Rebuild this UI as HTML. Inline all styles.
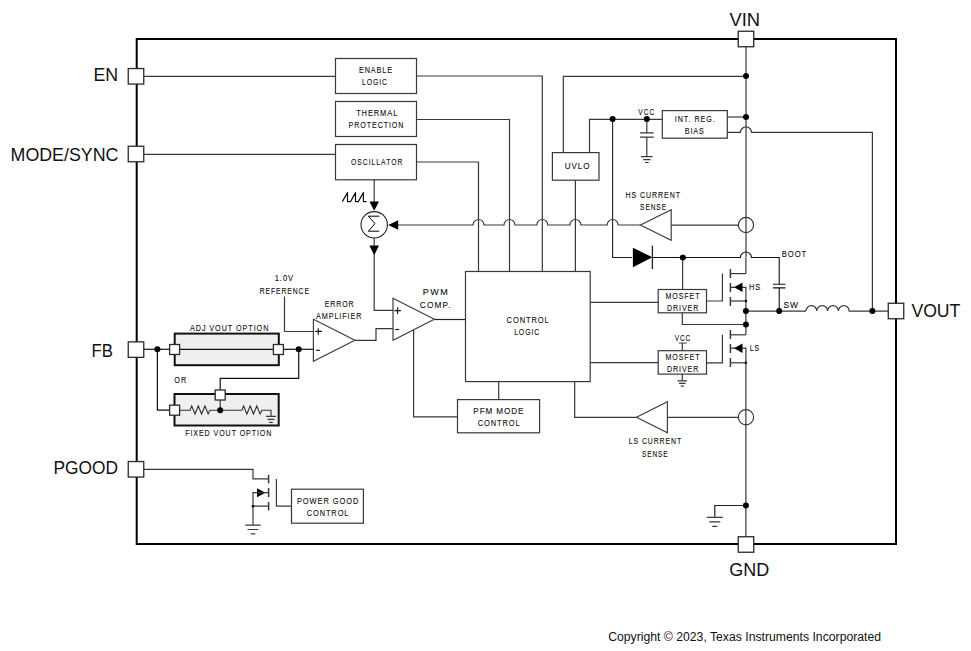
<!DOCTYPE html>
<html><head><meta charset="utf-8"><style>
html,body{margin:0;padding:0;background:#fff;}
svg{display:block;font-family:"Liberation Sans", sans-serif;}
</style></head><body>
<svg width="971" height="651" viewBox="0 0 971 651">
<rect x="136.7" y="39" width="759.3" height="505" stroke="#000" stroke-width="2" fill="none"/>
<text x="93.44" y="81" font-size="18.17" textLength="24.71" lengthAdjust="spacingAndGlyphs" fill="#111">EN</text>
<text x="10.54" y="160.6" font-size="18.17" textLength="107.94" lengthAdjust="spacingAndGlyphs" fill="#111">MODE/SYNC</text>
<text x="91.52" y="357.1" font-size="18.17" textLength="21.46" lengthAdjust="spacingAndGlyphs" fill="#111">FB</text>
<text x="53.38" y="474.1" font-size="18.17" textLength="64.55" lengthAdjust="spacingAndGlyphs" fill="#111">PGOOD</text>
<text x="729.52" y="25.6" font-size="17.88" textLength="30.58" lengthAdjust="spacingAndGlyphs" fill="#111">VIN</text>
<text x="729.30" y="576" font-size="18.31" textLength="39.97" lengthAdjust="spacingAndGlyphs" fill="#111">GND</text>
<text x="911.42" y="316.7" font-size="17.44" textLength="48.98" lengthAdjust="spacingAndGlyphs" fill="#111">VOUT</text>
<path d="M144 76.3H335.5" stroke="#383838" stroke-width="1.2" fill="none" />
<rect x="335.5" y="58.5" width="81.0" height="35.0" stroke="#383838" stroke-width="1.2" fill="#fff"/>
<text transform="translate(358.91,72.9) scale(0.8312029304029299,1)" x="0" y="0" font-size="8.72" textLength="39.83" lengthAdjust="spacing" fill="#111" stroke="#000" stroke-width="0.1">ENABLE</text>
<text transform="translate(361.94,85.2) scale(0.7895624394755447,1)" x="0" y="0" font-size="8.72" textLength="31.70" lengthAdjust="spacing" fill="#111" stroke="#000" stroke-width="0.1">LOGIC</text>
<rect x="335.5" y="101.5" width="81.0" height="35.0" stroke="#383838" stroke-width="1.2" fill="#fff"/>
<text transform="translate(356.13,115.9) scale(0.8595162944582302,1)" x="0" y="0" font-size="8.72" textLength="47.95" lengthAdjust="spacing" fill="#111" stroke="#000" stroke-width="0.1">THERMAL</text>
<text transform="translate(348.62,128.2) scale(0.8162171466401856,1)" x="0" y="0" font-size="8.72" textLength="67.10" lengthAdjust="spacing" fill="#111" stroke="#000" stroke-width="0.1">PROTECTION</text>
<path d="M144 154.3H335.5" stroke="#383838" stroke-width="1.2" fill="none" />
<rect x="335.5" y="144.5" width="81.0" height="35.3" stroke="#383838" stroke-width="1.2" fill="#fff"/>
<text transform="translate(351.08,164.8) scale(0.7808313774578838,1)" x="0" y="0" font-size="8.72" textLength="65.62" lengthAdjust="spacing" fill="#111" stroke="#000" stroke-width="0.1">OSCILLATOR</text>
<path d="M416.5 76H542.3V271.5" stroke="#383838" stroke-width="1.2" fill="none" />
<path d="M416.5 119.5H509.5V271.5" stroke="#383838" stroke-width="1.2" fill="none" />
<path d="M416.5 162H478.5V271.5" stroke="#383838" stroke-width="1.2" fill="none" />
<path d="M374.2 179.8V203" stroke="#383838" stroke-width="1.2" fill="none" />
<polygon points="369.4,201.5 379,201.5 374.2,210.8" fill="#000"/>
<circle cx="374.2" cy="224.8" r="13.2" stroke="#222" stroke-width="1.1" fill="none"/>
<path d="M368.3 216.2H379.2M368.3 216.2L375 223.6L368.3 231.2H379.2" stroke="#000" stroke-width="1" fill="none"/>
<path d="M342.3 201.6L347.5 192.6V201.6H350.5L355.5 192.6V201.6H358.3L363.4 192.6V201.6H366.6" stroke="#111" stroke-width="1.2" fill="none" stroke-linejoin="round"/>
<path d="M374.2 238V247" stroke="#383838" stroke-width="1.2" fill="none" />
<polygon points="369.4,245.5 379,245.5 374.2,255.3" fill="#000"/>
<path d="M374.2 254V310.4H393" stroke="#383838" stroke-width="1.2" fill="none" />
<polygon points="388.2,225 398.2,220.2 398.2,229.8" fill="#000"/>
<path d="M398 225H473.0A5.5 5.5 0 0 1 484.0 225H504.0A5.5 5.5 0 0 1 515.0 225H536.8A5.5 5.5 0 0 1 547.8 225H569.9A5.5 5.5 0 0 1 580.9 225H607.1A5.5 5.5 0 0 1 618.1 225H640.4" stroke="#383838" stroke-width="1.2" fill="none" />
<path d="M563.3 152.6V76.3H746" stroke="#383838" stroke-width="1.2" fill="none" />
<rect x="552.4" y="152.6" width="46.6" height="27.6" stroke="#383838" stroke-width="1.2" fill="#fff"/>
<text transform="translate(564.78,168.8) scale(0.9542088147807333,1)" x="0" y="0" font-size="8.43" textLength="25.79" lengthAdjust="spacing" fill="#111" stroke="#000" stroke-width="0.1">UVLO</text>
<path d="M575.4 180.2V271.5" stroke="#383838" stroke-width="1.2" fill="none" />
<path d="M589.5 152.6V119.3H662.3" stroke="#383838" stroke-width="1.2" fill="none" />
<text transform="translate(638.37,115) scale(0.7648702383762107,1)" x="0" y="0" font-size="8.72" textLength="20.77" lengthAdjust="spacing" fill="#111" stroke="#000" stroke-width="0.1">VCC</text>
<path d="M612.6 119V257.5H632" stroke="#222" stroke-width="1.1" fill="none" />
<path d="M646.8 119V132.8M640 132.8H653.7M640 137.1H653.7M646.8 137.1V156.6" stroke="#383838" stroke-width="1.2" fill="none" />
<path d="M641.05 156.6H652.55M643.05 159.54999999999998H650.55M645.0 162.5H648.5999999999999" stroke="#383838" stroke-width="1.2" fill="none" />
<rect x="662.3" y="110.6" width="65.0" height="27.6" stroke="#383838" stroke-width="1.2" fill="#fff"/>
<text transform="translate(674.74,122.3) scale(0.8183568298779608,1)" x="0" y="0" font-size="8.72" textLength="49.01" lengthAdjust="spacing" fill="#111" stroke="#000" stroke-width="0.1">INT. REG.</text>
<text transform="translate(684.71,133.7) scale(0.8316600227014791,1)" x="0" y="0" font-size="8.72" textLength="23.12" lengthAdjust="spacing" fill="#111" stroke="#000" stroke-width="0.1">BIAS</text>
<path d="M727.3 117H746" stroke="#383838" stroke-width="1.2" fill="none" />
<path d="M727.3 132.4H740.5A5.5 5.5 0 0 1 751.5 132.4H872.4V311" stroke="#383838" stroke-width="1.2" fill="none" />
<path d="M746 47V257.2" stroke="#383838" stroke-width="1.2" fill="none" />
<circle cx="746" cy="225" r="7.6" stroke="#383838" stroke-width="1.2" fill="none"/>
<polygon points="640.4,225 671.2,209.6 671.2,240.4" stroke="#404040" stroke-width="1.2" fill="#fff"/>
<text transform="translate(625.62,198.2) scale(0.808803169076273,1)" x="0" y="0" font-size="8.72" textLength="67.19" lengthAdjust="spacing" fill="#111" stroke="#000" stroke-width="0.1">HS CURRENT</text>
<text transform="translate(640.10,210.2) scale(0.7570916691314198,1)" x="0" y="0" font-size="8.72" textLength="34.32" lengthAdjust="spacing" fill="#111" stroke="#000" stroke-width="0.1">SENSE</text>
<path d="M671.2 225.2H738.4" stroke="#383838" stroke-width="1.2" fill="none" />
<polygon points="632.9,247.7 632.9,267.3 652.4,257.3" fill="#000"/>
<path d="M652.4 245.6V269.1" stroke="#222" stroke-width="1.3" fill="none" />
<path d="M652.4 257.5H682.8H740.4A5.5 5.5 0 0 1 751.4 257.5H779.2V284.3M772.9 284.3H785.4M772.9 287.9H785.4M779.2 287.9V311" stroke="#111" stroke-width="1.1" fill="none" />
<text transform="translate(781.77,257) scale(0.8783286089238853,1)" x="0" y="0" font-size="8.72" textLength="27.78" lengthAdjust="spacing" fill="#111" stroke="#000" stroke-width="0.1">BOOT</text>
<path d="M682.6 257.5V289.5" stroke="#383838" stroke-width="1.2" fill="none" />
<path d="M730.4 269V278" stroke="#383838" stroke-width="1.5" fill="none" />
<path d="M730.4 283V292.2" stroke="#383838" stroke-width="1.5" fill="none" />
<path d="M730.4 297V306" stroke="#383838" stroke-width="1.5" fill="none" />
<path d="M745.9 273.6H730.4" stroke="#383838" stroke-width="1.2" fill="none" />
<path d="M730.4 301H745.9" stroke="#383838" stroke-width="1.2" fill="none" />
<path d="M730.4 287.3H745.9V301" stroke="#383838" stroke-width="1.2" fill="none" />
<polygon points="734,287.3 742.5,282.6 742.5,292.0" fill="#000"/>
<path d="M722.4 273.6V301H706.4" stroke="#383838" stroke-width="1.2" fill="none" />
<path d="M745.9 257.5V273.6" stroke="#383838" stroke-width="1.2" fill="none" />
<text transform="translate(748.88,290) scale(0.8934897940112384,1)" x="0" y="0" font-size="8.43" textLength="12.72" lengthAdjust="spacing" fill="#111" stroke="#000" stroke-width="0.1">HS</text>
<rect x="658.2" y="289.5" width="48.3" height="23.3" stroke="#383838" stroke-width="1.2" fill="#fff"/>
<text transform="translate(665.42,298.9) scale(0.8159171595736148,1)" x="0" y="0" font-size="8.72" textLength="41.85" lengthAdjust="spacing" fill="#111" stroke="#000" stroke-width="0.1">MOSFET</text>
<text transform="translate(667.02,311) scale(0.8136838706800437,1)" x="0" y="0" font-size="8.72" textLength="38.48" lengthAdjust="spacing" fill="#111" stroke="#000" stroke-width="0.1">DRIVER</text>
<path d="M590.2 302.3H658.2" stroke="#383838" stroke-width="1.2" fill="none" />
<path d="M745.9 301V334.8" stroke="#383838" stroke-width="1.2" fill="none" />
<path d="M682.3 312.8V324.5H745.9" stroke="#383838" stroke-width="1.2" fill="none" />
<path d="M745.9 311.1H806" stroke="#383838" stroke-width="1.2" fill="none" />
<text transform="translate(783.42,307.9) scale(0.9948267454269115,1)" x="0" y="0" font-size="8.43" textLength="14.48" lengthAdjust="spacing" fill="#111" stroke="#000" stroke-width="0.1">SW</text>
<path d="M806 311.1A5.4 5.4 0 0 1 816.8 311.1A5.4 5.4 0 0 1 827.6 311.1A5.4 5.4 0 0 1 838.4 311.1A5.4 5.4 0 0 1 849.2 311.1H888.2" stroke="#383838" stroke-width="1.2" fill="none" />
<path d="M730.4 330V339" stroke="#383838" stroke-width="1.5" fill="none" />
<path d="M730.4 344V353" stroke="#383838" stroke-width="1.5" fill="none" />
<path d="M730.4 358V367" stroke="#383838" stroke-width="1.5" fill="none" />
<path d="M745.9 334.8H730.4" stroke="#383838" stroke-width="1.2" fill="none" />
<path d="M730.4 362.8H745.9" stroke="#383838" stroke-width="1.2" fill="none" />
<path d="M730.4 348.2H745.9V362.8" stroke="#383838" stroke-width="1.2" fill="none" />
<polygon points="734,348.2 742.5,343.5 742.5,352.9" fill="#000"/>
<path d="M722.4 334.8V362.8H706.4" stroke="#383838" stroke-width="1.2" fill="none" />
<text transform="translate(749.72,350.8) scale(0.8339727274124887,1)" x="0" y="0" font-size="8.43" textLength="11.39" lengthAdjust="spacing" fill="#111" stroke="#000" stroke-width="0.1">LS</text>
<rect x="658.2" y="350.7" width="48.3" height="23.4" stroke="#383838" stroke-width="1.2" fill="#fff"/>
<text transform="translate(665.42,359.7) scale(0.8159171595736148,1)" x="0" y="0" font-size="8.72" textLength="41.85" lengthAdjust="spacing" fill="#111" stroke="#000" stroke-width="0.1">MOSFET</text>
<text transform="translate(667.02,372) scale(0.8136838706800437,1)" x="0" y="0" font-size="8.72" textLength="38.48" lengthAdjust="spacing" fill="#111" stroke="#000" stroke-width="0.1">DRIVER</text>
<path d="M590.2 362.6H658.2" stroke="#383838" stroke-width="1.2" fill="none" />
<text transform="translate(674.77,341.2) scale(0.75,1)" x="0" y="0" font-size="8.72" textLength="20.64" lengthAdjust="spacing" fill="#111" stroke="#000" stroke-width="0.1">VCC</text>
<path d="M678.8 343H686.9M682.3 343V350.6" stroke="#383838" stroke-width="1.2" fill="none" />
<path d="M682.3 373.9V380.8" stroke="#383838" stroke-width="1.2" fill="none" />
<path d="M677.55 380.8H687.05M679.05 383.45H685.55M680.8 386.1H683.8" stroke="#383838" stroke-width="1.2" fill="none" />
<path d="M745.9 362.8V536.5" stroke="#383838" stroke-width="1.2" fill="none" />
<circle cx="746" cy="417.3" r="7.6" stroke="#383838" stroke-width="1.2" fill="none"/>
<polygon points="636.5,417.3 667.4,401.8 667.4,432.8" stroke="#404040" stroke-width="1.2" fill="#fff"/>
<path d="M667.4 417.3H738.4" stroke="#383838" stroke-width="1.2" fill="none" />
<path d="M636.5 417.3H574.7V381.6" stroke="#383838" stroke-width="1.2" fill="none" />
<text transform="translate(628.83,443.9) scale(0.7936775697304019,1)" x="0" y="0" font-size="8.72" textLength="65.93" lengthAdjust="spacing" fill="#111" stroke="#000" stroke-width="0.1">LS CURRENT</text>
<text transform="translate(642.00,456.8) scale(0.75,1)" x="0" y="0" font-size="8.72" textLength="34.24" lengthAdjust="spacing" fill="#111" stroke="#000" stroke-width="0.1">SENSE</text>
<path d="M745.9 505.5H714.8V517.4" stroke="#222" stroke-width="1.2" fill="none" />
<path d="M706.8 517.4H722.8M709.3 521.85H720.3M712.3 526.3H717.3" stroke="#383838" stroke-width="1.2" fill="none" />
<rect x="465.5" y="271.5" width="124.7" height="110.1" stroke="#383838" stroke-width="1.2" fill="#fff"/>
<text transform="translate(506.62,323) scale(0.8336709552858186,1)" x="0" y="0" font-size="9.01" textLength="50.54" lengthAdjust="spacing" fill="#111" stroke="#000" stroke-width="0.1">CONTROL</text>
<text transform="translate(514.13,335.2) scale(0.7678018711467468,1)" x="0" y="0" font-size="9.01" textLength="32.73" lengthAdjust="spacing" fill="#111" stroke="#000" stroke-width="0.1">LOGIC</text>
<path d="M434 319.5H465.5" stroke="#222" stroke-width="1.2" fill="none" />
<path d="M498.7 381.6V399.6" stroke="#383838" stroke-width="1.2" fill="none" />
<rect x="457.5" y="399.6" width="82.1" height="33.2" stroke="#383838" stroke-width="1.2" fill="#fff"/>
<text transform="translate(473.33,414.3) scale(0.9001933808127356,1)" x="0" y="0" font-size="9.01" textLength="55.56" lengthAdjust="spacing" fill="#111" stroke="#000" stroke-width="0.1">PFM MODE</text>
<text transform="translate(477.82,425.9) scale(0.8267429418069888,1)" x="0" y="0" font-size="9.01" textLength="50.59" lengthAdjust="spacing" fill="#111" stroke="#000" stroke-width="0.1">CONTROL</text>
<path d="M413.6 308V416.8H457.5" stroke="#383838" stroke-width="1.2" fill="none" />
<polygon points="393,298.3 434.3,319.3 393,340.3" stroke="#404040" stroke-width="1.2" fill="#fff"/>
<text transform="translate(422.76,295.4) scale(1.0,1)" x="0" y="0" font-size="9.01" textLength="24.98" lengthAdjust="spacing" fill="#111" stroke="#000" stroke-width="0.1">PWM</text>
<text transform="translate(419.78,307.8) scale(0.9200888076270086,1)" x="0" y="0" font-size="9.01" textLength="33.45" lengthAdjust="spacing" fill="#111" stroke="#000" stroke-width="0.1">COMP.</text>
<path d="M394.4 310.6H400.9M397.6 307.2V314" stroke="#111" stroke-width="1.1" fill="none" />
<path d="M395.2 329.5H399.2" stroke="#111" stroke-width="1.1" fill="none" />
<polygon points="313.4,319.3 354.9,340.3 313.4,361.3" stroke="#404040" stroke-width="1.2" fill="#fff"/>
<path d="M315.2 331.4H321.9M318.3 328.2V334.8" stroke="#111" stroke-width="1.1" fill="none" />
<path d="M316 350.3H320" stroke="#111" stroke-width="1.1" fill="none" />
<text transform="translate(324.73,306.9) scale(0.8571649676553635,1)" x="0" y="0" font-size="8.14" textLength="33.59" lengthAdjust="spacing" fill="#111" stroke="#000" stroke-width="0.1">ERROR</text>
<text transform="translate(316.09,318.8) scale(0.8878745332337564,1)" x="0" y="0" font-size="8.14" textLength="51.08" lengthAdjust="spacing" fill="#111" stroke="#000" stroke-width="0.1">AMPLIFIER</text>
<text transform="translate(274.72,281) scale(0.9062058061878159,1)" x="0" y="0" font-size="8.43" textLength="20.32" lengthAdjust="spacing" fill="#111" stroke="#000" stroke-width="0.1">1.0V</text>
<text transform="translate(259.74,293.9) scale(0.8088023517937996,1)" x="0" y="0" font-size="8.43" textLength="60.90" lengthAdjust="spacing" fill="#111" stroke="#000" stroke-width="0.1">REFERENCE</text>
<path d="M284.5 296.6V331.5H313.4" stroke="#383838" stroke-width="1.2" fill="none" />
<path d="M354.9 340.4H376V328.6H393" stroke="#383838" stroke-width="1.2" fill="none" />
<path d="M144 349.3H169.5" stroke="#111" stroke-width="1.2" fill="none" />
<rect x="174.7" y="333.6" width="104.1" height="31.6" stroke="#111" stroke-width="2" fill="#efefef"/>
<text transform="translate(189.99,331.1) scale(0.8063494881121239,1)" x="0" y="0" font-size="9.01" textLength="97.24" lengthAdjust="spacing" fill="#111" stroke="#000" stroke-width="0.1">ADJ VOUT OPTION</text>
<path d="M179.6 349.3H273.5" stroke="#111" stroke-width="1.2" fill="none" />
<rect x="169.6" y="344.5" width="10.0" height="10.0" stroke="#2a2a2a" stroke-width="1.3" fill="#fff"/>
<rect x="273.4" y="344.5" width="10.0" height="10.0" stroke="#2a2a2a" stroke-width="1.3" fill="#fff"/>
<path d="M283.4 349.3H313.4" stroke="#111" stroke-width="1.2" fill="none" />
<path d="M298.7 349.3V378.3H220.2V390" stroke="#111" stroke-width="1.2" fill="none" />
<text transform="translate(174.36,383) scale(0.8603954022988525,1)" x="0" y="0" font-size="8.43" textLength="13.69" lengthAdjust="spacing" fill="#111" stroke="#000" stroke-width="0.1">OR</text>
<path d="M157.4 349.3V410.2H169.5" stroke="#111" stroke-width="1.2" fill="none" />
<rect x="174.5" y="394" width="104.2" height="31.5" stroke="#111" stroke-width="2" fill="#efefef"/>
<rect x="215.2" y="390.0" width="10.0" height="10.0" stroke="#2a2a2a" stroke-width="1.3" fill="#fff"/>
<rect x="169.6" y="405.2" width="10.0" height="10.0" stroke="#2a2a2a" stroke-width="1.3" fill="#fff"/>
<path d="M179.6 410.2H190L191.7 406L195 414L198.3 406L201.6 414L204.9 406L208.2 414L210 410.2H241.9L243.6 406L246.9 414L250.2 406L253.5 414L256.8 406L260.1 414L261.9 410.2H271V416.4" stroke="#333" stroke-width="1.1" fill="none" />
<path d="M220.2 400V410.2" stroke="#383838" stroke-width="1.2" fill="none" />
<path d="M266.0 416.4H276.0M267.5 419.4H274.5M269.25 422.4H272.75" stroke="#383838" stroke-width="1.2" fill="none" />
<text transform="translate(185.22,436.2) scale(0.7875082283872232,1)" x="0" y="0" font-size="9.01" textLength="109.41" lengthAdjust="spacing" fill="#111" stroke="#000" stroke-width="0.1">FIXED VOUT OPTION</text>
<path d="M144 469.4H253V478.8H268.6" stroke="#383838" stroke-width="1.2" fill="none" />
<path d="M268.6 474.8V483.4" stroke="#383838" stroke-width="1.5" fill="none" />
<path d="M268.6 488V497.2" stroke="#383838" stroke-width="1.5" fill="none" />
<path d="M268.6 501.9V510.5" stroke="#383838" stroke-width="1.5" fill="none" />
<polygon points="257,488.2 257,497.2 265.5,492.7" fill="#000"/>
<path d="M253 506.2V492.7H268.6" stroke="#383838" stroke-width="1.2" fill="none" />
<path d="M253 506.2H268.6M253 506.2V525.1" stroke="#383838" stroke-width="1.2" fill="none" />
<path d="M245.25 525.1H260.75M247.5 529.5H258.5M250.75 533.9H255.25" stroke="#383838" stroke-width="1.2" fill="none" />
<path d="M276.4 479V506.2H291.5" stroke="#383838" stroke-width="1.2" fill="none" />
<rect x="291.5" y="489.2" width="71.9" height="34.0" stroke="#383838" stroke-width="1.2" fill="#fff"/>
<text transform="translate(296.88,504) scale(0.8606431855271132,1)" x="0" y="0" font-size="8.72" textLength="71.43" lengthAdjust="spacing" fill="#111" stroke="#000" stroke-width="0.1">POWER GOOD</text>
<text transform="translate(306.72,516.2) scale(0.8519147241134022,1)" x="0" y="0" font-size="8.72" textLength="48.98" lengthAdjust="spacing" fill="#111" stroke="#000" stroke-width="0.1">CONTROL</text>
<rect x="128.25" y="68.55" width="15.5" height="15.5" stroke="#2a2a2a" stroke-width="1.3" fill="#fff"/>
<rect x="128.25" y="146.25" width="15.5" height="15.5" stroke="#2a2a2a" stroke-width="1.3" fill="#fff"/>
<rect x="128.25" y="341.85" width="15.5" height="15.5" stroke="#2a2a2a" stroke-width="1.3" fill="#fff"/>
<rect x="128.25" y="461.55" width="15.5" height="15.5" stroke="#2a2a2a" stroke-width="1.3" fill="#fff"/>
<rect x="738.25" y="31.25" width="15.5" height="15.5" stroke="#2a2a2a" stroke-width="1.3" fill="#fff"/>
<rect x="738.25" y="536.75" width="15.5" height="15.5" stroke="#2a2a2a" stroke-width="1.3" fill="#fff"/>
<rect x="888.25" y="303.25" width="15.5" height="15.5" stroke="#2a2a2a" stroke-width="1.3" fill="#fff"/>
<text x="608.18" y="640.8" font-size="12.50" textLength="272.90" lengthAdjust="spacingAndGlyphs" fill="#111">Copyright © 2023, Texas Instruments Incorporated</text>
<circle cx="746" cy="76" r="3" fill="#000"/>
<circle cx="612.6" cy="119" r="3" fill="#000"/>
<circle cx="646.8" cy="119" r="3" fill="#000"/>
<circle cx="746" cy="117" r="3" fill="#000"/>
<circle cx="682.8" cy="257.5" r="3" fill="#000"/>
<circle cx="745.9" cy="301" r="1.2" fill="#000"/>
<circle cx="745.9" cy="311.1" r="3" fill="#000"/>
<circle cx="779.2" cy="311.1" r="3" fill="#000"/>
<circle cx="745.9" cy="324.5" r="3" fill="#000"/>
<circle cx="872.4" cy="311.1" r="3" fill="#000"/>
<circle cx="745.9" cy="362.8" r="1.2" fill="#000"/>
<circle cx="745.9" cy="505.5" r="3" fill="#000"/>
<circle cx="157.4" cy="349.3" r="3" fill="#000"/>
<circle cx="298.7" cy="349.3" r="3" fill="#000"/>
<circle cx="220.2" cy="410.2" r="3" fill="#000"/>
<circle cx="253" cy="506.2" r="1.3" fill="#000"/>
</svg>
</body></html>
